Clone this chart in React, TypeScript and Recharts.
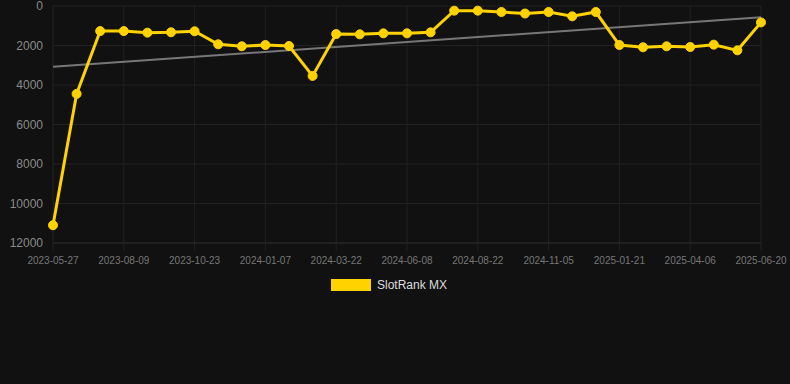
import { LineChart, Line, XAxis, YAxis, CartesianGrid, Legend } from 'recharts';

const dates = [
  '2023-05-27', '2023-06-21', '2023-07-16', '2023-08-09', '2023-09-03', '2023-09-28',
  '2023-10-23', '2023-11-17', '2023-12-13', '2024-01-07', '2024-02-01', '2024-02-26',
  '2024-03-22', '2024-04-17', '2024-05-13', '2024-06-08', '2024-07-03', '2024-07-28',
  '2024-08-22', '2024-09-16', '2024-10-11', '2024-11-05', '2024-11-30', '2024-12-26',
  '2025-01-21', '2025-02-14', '2025-03-12', '2025-04-06', '2025-05-01', '2025-05-26',
  '2025-06-20',
];

const rank = [
  11100, 4450, 1270, 1270, 1350, 1330, 1280, 1940, 2040, 1975, 2025, 3540,
  1420, 1435, 1385, 1385, 1335, 236, 236, 304, 380, 304, 523, 304,
  1975, 2090, 2040, 2076, 1958, 2245, 830,
];

// trend line: only the two ends are known, the rest is joined
const trendStart = 3070;
const trendEnd = 575;

const yTicks = [0, 2000, 4000, 6000, 8000, 10000, 12000];

const data = dates.map((d, i) => ({
  date: d,
  rank: rank[i],
  trend: i === 0 ? trendStart : i === dates.length - 1 ? trendEnd : null,
}));

const FONT = '"Liberation Sans", Arial, sans-serif';

function LegendContent() {
  return (
    <div style={{ display: 'flex', alignItems: 'center', fontFamily: FONT, height: 14 }}>
      <div style={{ width: 40, height: 12, background: '#ffd200' }} />
      <span style={{ marginLeft: 6, color: '#dddddd', fontSize: 12 }}>SlotRank MX</span>
    </div>
  );
}

export default function App() {
  return (
    <div style={{ position: 'fixed', top: 0, left: 0, width: 790, height: 384, background: '#111111' }}>
      <LineChart
        width={790}
        height={384}
        data={data}
        margin={{ top: 6, right: 29, left: 10, bottom: 97 }}
        style={{ fontFamily: FONT }}
      >
        <CartesianGrid stroke="#222222" />
        <XAxis
          dataKey="date"
          interval={2}
          height={30}
          tick={{ fill: '#777777', fontSize: 10 }}
          tickSize={8}
          tickMargin={6}
          tickLine={{ stroke: '#222222' }}
          axisLine={{ stroke: '#2a2a2a' }}
        />
        <YAxis
          reversed
          domain={[0, 12000]}
          ticks={yTicks}
          interval={0}
          width={43}
          tick={{ fill: '#8a8a8a', fontSize: 12 }}
          tickSize={0}
          tickMargin={10}
          axisLine={false}
        />
        <Legend
          content={<LegendContent />}
          wrapperStyle={{ top: 278, left: 331, width: 'auto' }}
        />
        <Line
          dataKey="trend"
          stroke="#777777"
          strokeWidth={2}
          dot={false}
          connectNulls
          legendType="none"
          isAnimationActive={false}
        />
        <Line
          dataKey="rank"
          name="SlotRank MX"
          stroke="#ffd200"
          strokeWidth={3}
          dot={{ r: 4.5, fill: '#ffd200', stroke: '#ffd200', strokeWidth: 1 }}
          isAnimationActive={false}
        />
      </LineChart>
    </div>
  );
}
